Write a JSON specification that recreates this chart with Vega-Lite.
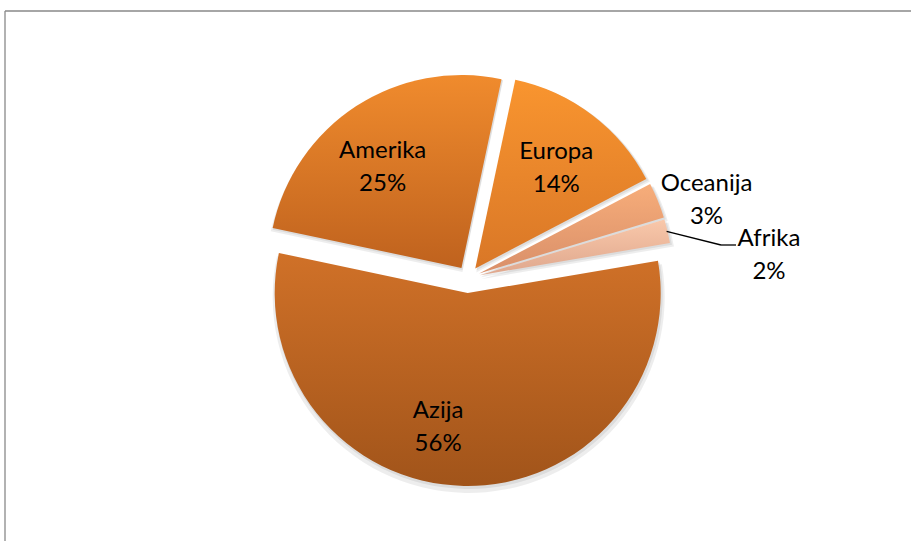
{
  "$schema": "https://vega.github.io/schema/vega-lite/v6.json",
  "width": 906,
  "height": 530,
  "autosize": {"type": "none"},
  "padding": {"left": 5, "top": 11, "right": 0, "bottom": 0},
  "background": "white",
  "view": {"stroke": null},
  "data": {"values": [
    {"region": "Europa", "share": 14},
    {"region": "Oceanija", "share": 3},
    {"region": "Afrika", "share": 2},
    {"region": "Azija", "share": 56},
    {"region": "Amerika", "share": 25}
  ]},
  "transform": [
    {"window": [{"op": "sum", "field": "share", "as": "v1"}], "frame": [null, 0]},
    {"calculate": "datum.v1 - datum.share", "as": "v0"},
    {"calculate": "(datum.v0 + datum.v1) / 2", "as": "mid"},
    {"calculate": "0.209 + datum.mid / 100 * 2 * PI", "as": "ang"},
    {"calculate": "datum.region == 'Azija' ? 15 : 12", "as": "ex"},
    {"calculate": "[datum.region, datum.share + '%']", "as": "label"}
  ],
  "layer": [
    {
      "transform": [{"filter": "datum.region == 'Azija'"}],
      "mark": {"type": "rule", "color": "#898989", "strokeWidth": 1.3},
      "encoding": {
        "x": {"value": 0},
        "y": {"value": 0},
        "y2": {"value": "height"}
      }
    },
    {
      "transform": [{"filter": "datum.region == 'Azija'"}],
      "mark": {"type": "rule", "color": "#898989", "strokeWidth": 1.3},
      "encoding": {
        "x": {"value": 0},
        "x2": {"value": "width"},
        "y": {"value": 0}
      }
    },
    {
      "mark": {"type": "arc", "radius": 196, "color": "#000000", "opacity": 0.07,
        "xOffset": {"expr": "11 + datum.ex * sin(datum.ang)"},
        "yOffset": {"expr": "6 - datum.ex * cos(datum.ang)"}},
      "encoding": {
        "theta": {"field": "v0", "type": "quantitative", "stack": null, "scale": {"domain": [0, 100], "range": [0.209, 6.4922]}},
        "theta2": {"field": "v1"}
      }
    },
    {
      "mark": {"type": "arc", "radius": 194, "color": "#000000", "opacity": 0.07,
        "xOffset": {"expr": "11 + datum.ex * sin(datum.ang)"},
        "yOffset": {"expr": "4 - datum.ex * cos(datum.ang)"}},
      "encoding": {
        "theta": {"field": "v0", "type": "quantitative", "stack": null, "scale": {"domain": [0, 100], "range": [0.209, 6.4922]}},
        "theta2": {"field": "v1"}
      }
    },
    {
      "transform": [{"filter": "datum.region == 'Europa'"}],
      "mark": {"type": "arc", "radius": 193,
        "xOffset": {"expr": "10 + datum.ex * sin(datum.ang)"},
        "yOffset": {"expr": "2 - datum.ex * cos(datum.ang)"},
        "color": {"gradient": "linear", "x1": 0, "y1": 0, "x2": 0, "y2": 1, "stops": [{"offset": 0, "color": "#F9952F"}, {"offset": 1, "color": "#D97727"}]}},
      "encoding": {
        "theta": {"field": "v0", "type": "quantitative", "stack": null, "scale": {"domain": [0, 100], "range": [0.209, 6.4922]}},
        "theta2": {"field": "v1"}
      }
    },
    {
      "transform": [{"filter": "datum.region == 'Oceanija'"}],
      "mark": {"type": "arc", "radius": 193,
        "xOffset": {"expr": "10 + datum.ex * sin(datum.ang)"},
        "yOffset": {"expr": "2 - datum.ex * cos(datum.ang)"},
        "color": {"gradient": "linear", "x1": 0, "y1": 0, "x2": 0, "y2": 1, "stops": [{"offset": 0, "color": "#F7AD7A"}, {"offset": 1, "color": "#D98F69"}]}},
      "encoding": {
        "theta": {"field": "v0", "type": "quantitative", "stack": null, "scale": {"domain": [0, 100], "range": [0.209, 6.4922]}},
        "theta2": {"field": "v1"}
      }
    },
    {
      "transform": [{"filter": "datum.region == 'Afrika'"}],
      "mark": {"type": "arc", "radius": 193,
        "xOffset": {"expr": "10 + datum.ex * sin(datum.ang)"},
        "yOffset": {"expr": "2 - datum.ex * cos(datum.ang)"},
        "color": {"gradient": "linear", "x1": 0, "y1": 0, "x2": 0, "y2": 1, "stops": [{"offset": 0, "color": "#F9C8AA"}, {"offset": 1, "color": "#DFA78D"}]}},
      "encoding": {
        "theta": {"field": "v0", "type": "quantitative", "stack": null, "scale": {"domain": [0, 100], "range": [0.209, 6.4922]}},
        "theta2": {"field": "v1"}
      }
    },
    {
      "transform": [{"filter": "datum.region == 'Azija'"}],
      "mark": {"type": "arc", "radius": 193,
        "xOffset": {"expr": "10 + datum.ex * sin(datum.ang)"},
        "yOffset": {"expr": "2 - datum.ex * cos(datum.ang)"},
        "color": {"gradient": "linear", "x1": 0, "y1": 0, "x2": 0, "y2": 1, "stops": [{"offset": 0, "color": "#D07128"}, {"offset": 1, "color": "#A1541A"}]}},
      "encoding": {
        "theta": {"field": "v0", "type": "quantitative", "stack": null, "scale": {"domain": [0, 100], "range": [0.209, 6.4922]}},
        "theta2": {"field": "v1"}
      }
    },
    {
      "transform": [{"filter": "datum.region == 'Amerika'"}],
      "mark": {"type": "arc", "radius": 193,
        "xOffset": {"expr": "10 + datum.ex * sin(datum.ang)"},
        "yOffset": {"expr": "2 - datum.ex * cos(datum.ang)"},
        "color": {"gradient": "linear", "x1": 0, "y1": 0, "x2": 0, "y2": 1, "stops": [{"offset": 0, "color": "#F08B2D"}, {"offset": 1, "color": "#BF621E"}]}},
      "encoding": {
        "theta": {"field": "v0", "type": "quantitative", "stack": null, "scale": {"domain": [0, 100], "range": [0.209, 6.4922]}},
        "theta2": {"field": "v1"}
      }
    },
    {
      "transform": [{"filter": "datum.region == 'Amerika'"}],
      "mark": {"type": "text", "radius": 128, "thetaOffset": -0.087, "font": "Lato", "fontSize": 24, "lineHeight": 33, "dy": -16, "color": "#000000",
        "xOffset": {"expr": "10 + datum.ex * sin(datum.ang)"},
        "yOffset": {"expr": "2 - datum.ex * cos(datum.ang)"}},
      "encoding": {
        "theta": {"field": "mid", "type": "quantitative", "stack": null, "scale": {"domain": [0, 100], "range": [0.209, 6.4922]}},
        "text": {"field": "label"}
      }
    },
    {
      "transform": [{"filter": "datum.region == 'Europa'"}],
      "mark": {"type": "text", "radius": 129, "thetaOffset": 0.03, "font": "Lato", "fontSize": 24, "lineHeight": 33, "dy": -16, "color": "#000000",
        "xOffset": {"expr": "10 + datum.ex * sin(datum.ang)"},
        "yOffset": {"expr": "2 - datum.ex * cos(datum.ang)"}},
      "encoding": {
        "theta": {"field": "mid", "type": "quantitative", "stack": null, "scale": {"domain": [0, 100], "range": [0.209, 6.4922]}},
        "text": {"field": "label"}
      }
    },
    {
      "transform": [{"filter": "datum.region == 'Azija'"}],
      "mark": {"type": "text", "radius": 137, "thetaOffset": 0.197, "font": "Lato", "fontSize": 24, "lineHeight": 33, "dy": -16, "color": "#000000",
        "xOffset": {"expr": "10 + datum.ex * sin(datum.ang)"},
        "yOffset": {"expr": "2 - datum.ex * cos(datum.ang)"}},
      "encoding": {
        "theta": {"field": "mid", "type": "quantitative", "stack": null, "scale": {"domain": [0, 100], "range": [0.209, 6.4922]}},
        "text": {"field": "label"}
      }
    },
    {
      "transform": [{"filter": "datum.region == 'Oceanija'"}],
      "mark": {"type": "text", "radius": 239, "thetaOffset": 0.075, "font": "Lato", "fontSize": 24, "lineHeight": 33, "dy": -16, "color": "#000000",
        "xOffset": {"expr": "10 + datum.ex * sin(datum.ang)"},
        "yOffset": {"expr": "2 - datum.ex * cos(datum.ang)"}},
      "encoding": {
        "theta": {"field": "mid", "type": "quantitative", "stack": null, "scale": {"domain": [0, 100], "range": [0.209, 6.4922]}},
        "text": {"field": "label"}
      }
    },
    {
      "transform": [{"filter": "datum.region == 'Afrika'"}],
      "mark": {"type": "text", "radius": 290, "thetaOffset": 0.16, "font": "Lato", "fontSize": 24, "lineHeight": 33, "dy": -16, "color": "#000000",
        "xOffset": {"expr": "10 + datum.ex * sin(datum.ang)"},
        "yOffset": {"expr": "2 - datum.ex * cos(datum.ang)"}},
      "encoding": {
        "theta": {"field": "mid", "type": "quantitative", "stack": null, "scale": {"domain": [0, 100], "range": [0.209, 6.4922]}},
        "text": {"field": "label"}
      }
    },
    {
      "transform": [{"filter": "datum.region == 'Afrika'"}],
      "mark": {"type": "rule", "color": "#000000", "strokeWidth": 1.3},
      "encoding": {
        "x": {"value": {"expr": "width / 2 + 10 + (datum.ex + 192) * sin(datum.ang)"}},
        "y": {"value": {"expr": "height / 2 + 2 - (datum.ex + 192) * cos(datum.ang)"}},
        "x2": {"value": {"expr": "width / 2 + 10 + 253"}},
        "y2": {"value": {"expr": "height / 2 + 2 - 33"}}
      }
    },
    {
      "transform": [{"filter": "datum.region == 'Afrika'"}],
      "mark": {"type": "rule", "color": "#000000", "strokeWidth": 1.3},
      "encoding": {
        "x": {"value": {"expr": "width / 2 + 10 + 253"}},
        "y": {"value": {"expr": "height / 2 + 2 - 33"}},
        "x2": {"value": {"expr": "width / 2 + 10 + 268"}},
        "y2": {"value": {"expr": "height / 2 + 2 - 33"}}
      }
    }
  ]
}
